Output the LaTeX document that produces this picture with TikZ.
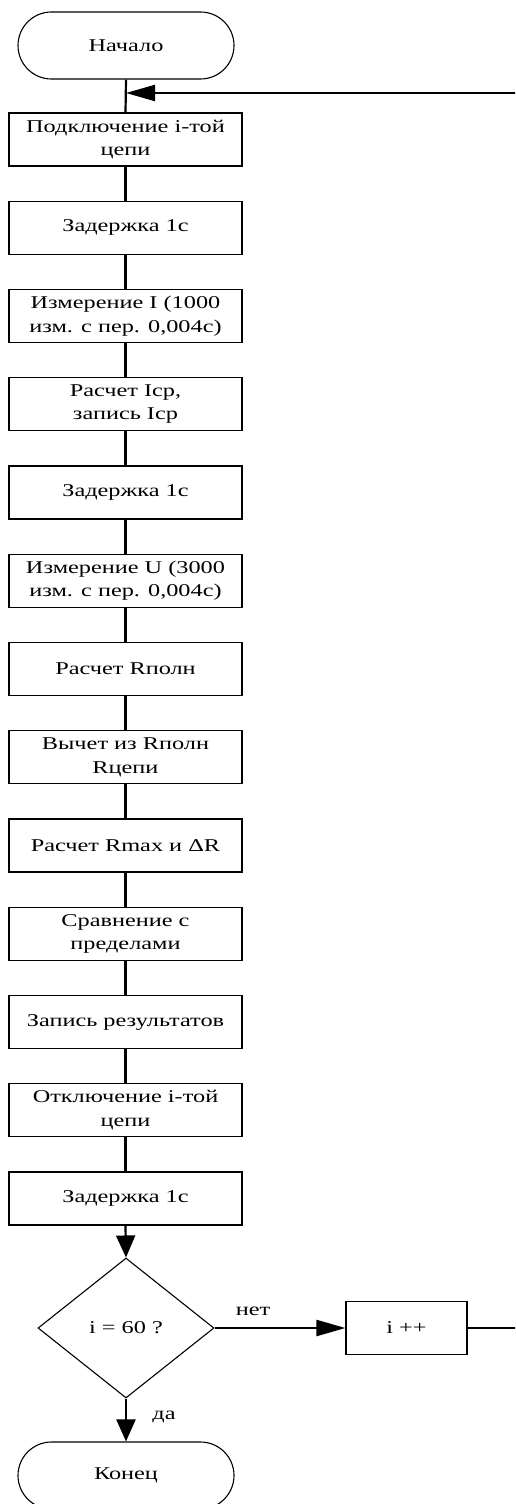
\documentclass[tikz,border=0pt]{standalone}
\usepackage{fontspec}
\setmainfont{Liberation Serif}[FakeStretch=1.35]
\usetikzlibrary{shapes.geometric,arrows.meta}

\tikzset{
  stepbox/.style={draw, line width=1.1pt, rectangle, minimum width=233pt,
    minimum height=53pt, inner sep=0pt, align=center},
  terminal/.style={draw, line width=1.1pt, rectangle, rounded corners=33.5pt,
    minimum width=216pt, minimum height=67pt, inner sep=0pt},
  decision/.style={draw, line width=1.1pt, diamond, aspect=1.257,
    minimum width=176pt, minimum height=140pt, inner sep=0pt},
  flow/.style={line width=2.2pt},
  downarrow/.style={flow, -{Triangle[length=22pt,width=19pt]}},
  sidearrow/.style={flow, -{Triangle[length=29pt,width=16pt]}},
  lbl/.style={inner sep=0pt}
}

\begin{document}
\begin{tikzpicture}[x=1pt, y=-1pt, font=\fontsize{18}{23.5}\selectfont]
  \useasboundingbox (0,0) rectangle (515,1504);
  \clip (0,0) rectangle (515,1504);

  % start and end terminals
  \node[terminal] (start) at (126,45.5) {Начало};

  % process steps
  \node[stepbox] (b1)  at (125.5,139.5)  {Подключение i-той\\цепи};
  \node[stepbox] (b2)  at (125.5,227.75) {Задержка 1с};
  \node[stepbox] (b3)  at (125.5,316)    {Измерение I (1000\\изм. с пер. 0,004с)};
  \node[stepbox] (b4)  at (125.5,404.25) {Расчет Iср,\\запись Iср};
  \node[stepbox] (b5)  at (125.5,492.5)  {Задержка 1с};
  \node[stepbox] (b6)  at (125.5,580.75) {Измерение U (3000\\изм. с пер. 0,004с)};
  \node[stepbox] (b7)  at (125.5,669)    {Расчет Rполн};
  \node[stepbox] (b8)  at (125.5,757.25) {Вычет из Rполн\\Rцепи};
  \node[stepbox] (b9)  at (125.5,845.5)  {Расчет Rmax и ΔR};
  \node[stepbox] (b10) at (125.5,933.75) {Сравнение с\\пределами};
  \node[stepbox] (b11) at (125.5,1022)   {Запись результатов};
  \node[stepbox] (b12) at (125.5,1110.25){Отключение i-той\\цепи};
  \node[stepbox] (b13) at (125.5,1198.5) {Задержка 1с};

  % loop test and counter
  \node[decision] (dec) at (126,1328) {i = 60 ?};
  \node[stepbox, minimum width=121pt] (inc) at (406.5,1328) {i ++};

  \node[terminal] (end) at (126,1475.5) {Конец};

  % point where the loop returns into the main flow
  \coordinate (join) at (126,93);
  \coordinate (loopout) at (540,1328);

  % main vertical flow
  \draw[flow] (start.south) -- (b1.north);
  \foreach \a/\b in {b1/b2,b2/b3,b3/b4,b4/b5,b5/b6,b6/b7,b7/b8,b8/b9,b9/b10,b10/b11,b11/b12,b12/b13}
    \draw[flow] (\a.south) -- (\b.north);
  \draw[downarrow] (b13.south) -- (dec.north);
  \draw[downarrow] (dec.south) -- (end.north);
  \draw[sidearrow] (dec.east) -- (inc.west);
  \draw[sidearrow] (inc.east) -- (loopout) |- (join);

  % branch labels
  \node[lbl] (no) at (253,1311) {нет};
  \node[lbl] (yes) at (164,1417) {да};
\end{tikzpicture}
\end{document}
